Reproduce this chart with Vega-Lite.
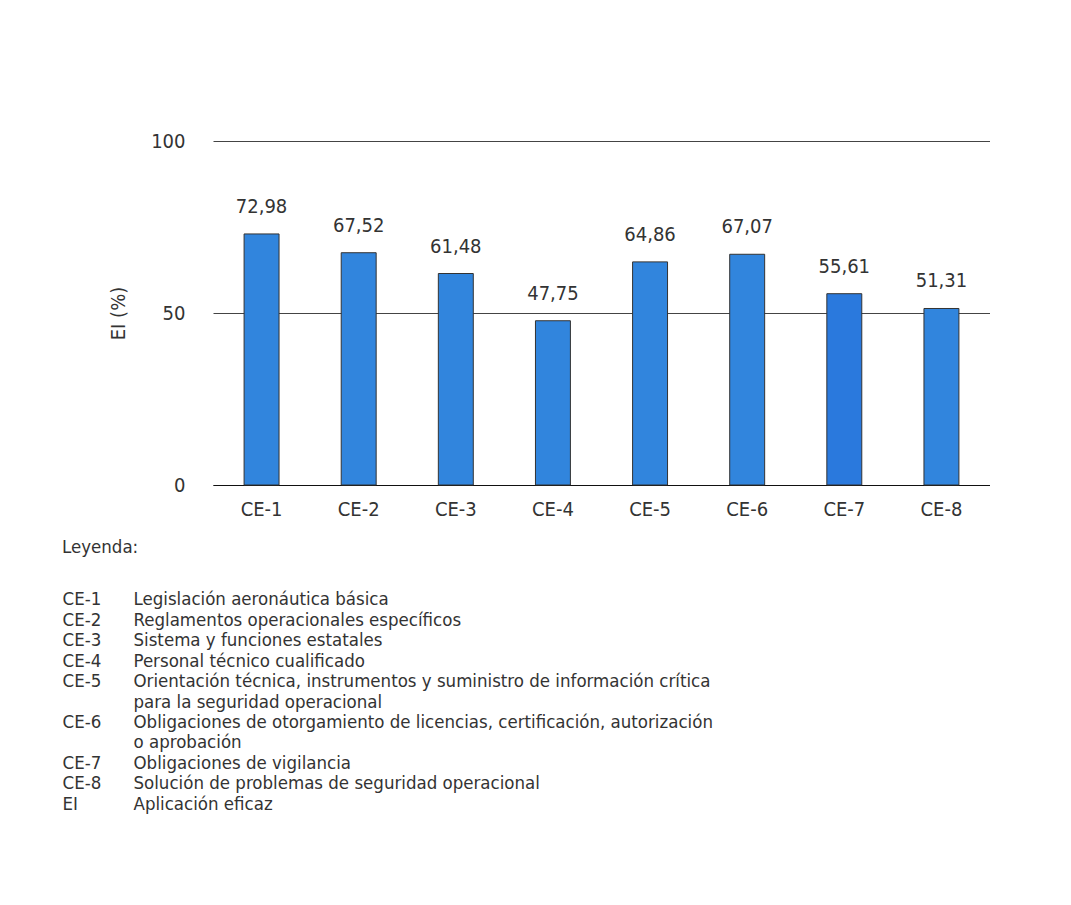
{
  "$schema": "https://vega.github.io/schema/vega-lite/v6.json",
  "padding": {"left": 62, "top": 131, "right": 0, "bottom": 0},
  "background": "white",
  "config": {
    "font": "DejaVu Sans Condensed, Roboto",
    "view": {"stroke": null},
    "locale": {"number": {"decimal": ",", "thousands": ".", "grouping": [3], "currency": ["", " €"]}},
    "concat": {"spacing": 18}
  },
  "vconcat": [
    {
      "width": 777,
      "height": 344,
      "data": {"values": [
        {"code": "CE-1", "value": 72.98},
        {"code": "CE-2", "value": 67.52},
        {"code": "CE-3", "value": 61.48},
        {"code": "CE-4", "value": 47.75},
        {"code": "CE-5", "value": 64.86},
        {"code": "CE-6", "value": 67.07},
        {"code": "CE-7", "value": 55.61},
        {"code": "CE-8", "value": 51.31}
      ]},
      "encoding": {
        "x": {"field": "code", "type": "nominal", "sort": null,
          "scale": {"paddingInner": 0.64, "paddingOuter": 0.32},
          "axis": {"title": null, "labelAngle": 0, "labelFontSize": 20, "labelColor": "#333", "labelPadding": 14, "ticks": false, "domainColor": "#111", "domainWidth": 1.2}},
        "y": {"field": "value", "type": "quantitative",
          "scale": {"domain": [0, 100]},
          "axis": {"values": [0, 50, 100], "title": "EI (%)", "titleFontSize": 20, "titleFontWeight": "normal", "titleColor": "#333", "titlePadding": 22, "labelFontSize": 20, "labelColor": "#333", "labelPadding": 28, "ticks": false, "domain": false, "gridColor": "#444", "gridWidth": 1}}
      },
      "layer": [
        {"mark": {"type": "bar", "stroke": "#333", "strokeWidth": 1},
         "encoding": {"color": {"condition": {"test": "datum.code === 'CE-7'", "value": "#2a79dd"}, "value": "#3185dd"}}},
        {"mark": {"type": "text", "baseline": "alphabetic", "dy": -21, "fontSize": 20, "color": "#333"},
         "encoding": {"text": {"field": "value", "type": "quantitative", "format": ".2f"}}}
      ]
    },
    {
      "width": 1,
      "height": 225,
      "title": {"text": "Leyenda:", "anchor": "start", "frame": "group", "dx": -151, "fontSize": 18.5, "fontWeight": "normal", "color": "#333", "offset": 33},
      "data": {"values": [
        {"code": "CE-1", "desc": "Legislación aeronáutica básica"},
        {"code": "CE-2", "desc": "Reglamentos operacionales específicos"},
        {"code": "CE-3", "desc": "Sistema y funciones estatales"},
        {"code": "CE-4", "desc": "Personal técnico cualificado"},
        {"code": "CE-5", "desc": "Orientación técnica, instrumentos y suministro de información crítica"},
        {"code": "", "desc": "\u2002para la seguridad operacional"},
        {"code": "CE-6", "desc": "Obligaciones de otorgamiento de licencias, certificación, autorización"},
        {"code": "", "desc": "\u2009o aprobación"},
        {"code": "CE-7", "desc": "Obligaciones de vigilancia"},
        {"code": "CE-8", "desc": "Solución de problemas de seguridad operacional"},
        {"code": "EI", "desc": "Aplicación eficaz"}
      ]},
      "encoding": {
        "y": {"field": "desc", "type": "nominal", "sort": null, "axis": null, "scale": {"paddingInner": 0, "paddingOuter": 0}}
      },
      "layer": [
        {"mark": {"type": "text", "align": "left", "baseline": "middle", "dx": -151, "fontSize": 18.5, "color": "#333"},
         "encoding": {"text": {"field": "code"}}},
        {"mark": {"type": "text", "align": "left", "baseline": "middle", "dx": -80, "fontSize": 18.5, "color": "#333"},
         "encoding": {"text": {"field": "desc"}}}
      ]
    }
  ]
}
